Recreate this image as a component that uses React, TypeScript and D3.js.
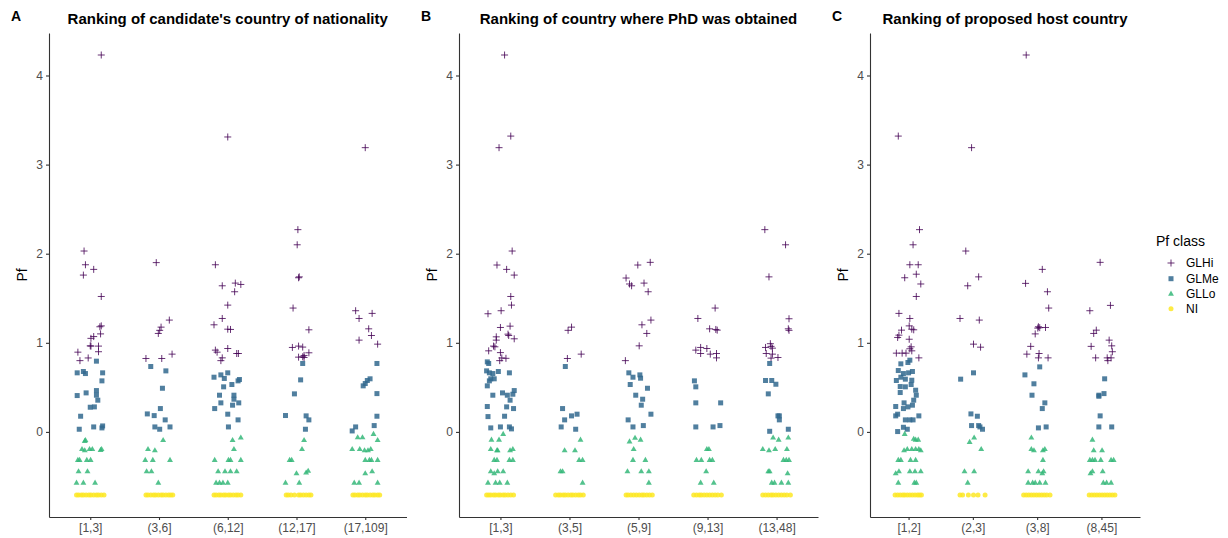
import React, { useEffect, useRef } from "react";
import * as d3 from "d3";

// category labels (binned rankings)
const nationalityCats = ["[1,3]", "(3,6]", "(6,12]", "(12,17]", "(17,109]"];
const phdCats = ["[1,3]", "(3,5]", "(5,9]", "(9,13]", "(13,48]"];
const hostCats = ["[1,2]", "(2,3]", "(3,8]", "(8,45]"];
const pfTicks = [0, 1, 2, 3, 4];
const NI_PF = -0.708;

// points as [category index, horizontal jitter (in category steps), Pf]
const nationalityHi = [
  [0, 0.16, 4.23], [0, -0.09, 2.03], [0, -0.07, 1.876], [0, -0.1, 1.76], [0, 0.05, 1.824], [0, 0.16, 1.52],
  [0, 0.14, 1.18], [0, 0.16, 1.19], [0, 0.15, 1.1], [0, 0.05, 1.07], [0, 0.01, 1.05], [0, 0, 0.966],
  [0, 0.01, 0.963], [0, 0.12, 0.963], [0, 0.12, 0.9], [0, -0.18, 0.895], [0, -0.15, 0.8], [0, -0.03, 0.83],
  [1, -0.04, 1.9], [1, 0.15, 1.255], [1, 0.03, 1.176], [1, 0.01, 1.14], [1, -0.01, 1.105], [1, -0.19, 0.824],
  [1, 0.04, 0.824], [1, 0.19, 0.873],
  [2, 0, 3.31], [2, -0.18, 1.876], [2, -0.08, 1.64], [2, 0.11, 1.67], [2, 0.19, 1.655], [2, 0.1, 1.573],
  [2, 0, 1.423], [2, -0.08, 1.273], [2, -0.2, 1.202], [2, 0, 1.153], [2, 0.04, 1.15], [2, 0, 0.936],
  [2, -0.18, 0.918], [2, -0.155, 0.895], [2, -0.08, 0.831], [2, -0.1, 0.8], [2, 0.13, 0.88], [2, 0.155, 0.88],
  [3, 0.02, 2.27], [3, 0.01, 2.1], [3, 0.03, 1.73], [3, 0.04, 1.74], [3, -0.05, 1.39], [3, 0.18, 1.146],
  [3, -0.06, 0.948], [3, 0.03, 0.963], [3, 0.09, 0.952], [3, 0.03, 0.839], [3, 0.11, 0.858], [3, 0.11, 0.835],
  [3, 0.18, 0.888], [3, 0.09, 0.843],
  [4, 0, 3.19], [4, -0.14, 1.36], [4, -0.09, 1.273], [4, 0.1, 1.33], [4, 0.05, 1.157], [4, 0.09, 1.082],
  [4, -0.09, 1.03], [4, 0.18, 0.985],
];
const nationalityMe = [
  [0, -0.19, 0.663], [0, -0.1, 0.678], [0, -0.07, 0.655], [0, 0.09, 0.794], [0, 0.18, 0.663], [0, 0.17, 0.573],
  [0, -0.19, 0.408], [0, -0.06, 0.438], [0, 0.09, 0.464], [0, 0.09, 0.412], [0, 0.11, 0.356], [0, 0, 0.277],
  [0, 0.06, 0.281], [0, -0.14, 0.176], [0, -0.16, 0.03], [0, 0.05, 0.056], [0, 0.17, 0.045], [0, 0.18, 0.067],
  [1, -0.12, 0.734], [1, 0.1, 0.685], [1, 0.05, 0.49], [1, 0.02, 0.262], [1, -0.17, 0.202], [1, -0.07, 0.183],
  [1, 0.09, 0.135], [1, -0.06, 0.056], [1, 0.01, 0.03], [1, 0.16, 0.056],
  [2, -0.2, 0.614], [2, -0.1, 0.64], [2, -0.05, 0.6], [2, 0, 0.663], [2, -0.06, 0.506], [2, 0.06, 0.532],
  [2, 0.15, 0.573], [2, 0.17, 0.588], [2, -0.12, 0.412], [2, 0.09, 0.412], [2, 0.09, 0.367], [2, -0.1, 0.326],
  [2, 0.07, 0.3], [2, 0.16, 0.326], [2, -0.19, 0.262], [2, 0, 0.199], [2, 0.15, 0.135], [2, 0.01, 0.056],
  [3, 0.09, 0.768], [3, 0.06, 0.584], [3, -0.03, 0.427], [3, -0.16, 0.184], [3, 0.14, 0.18], [3, 0.18, 0.135],
  [3, 0.13, 0.03],
  [4, 0.17, 0.768], [4, 0.07, 0.596], [4, 0.03, 0.577], [4, 0, 0.543], [4, -0.03, 0.517], [4, 0.17, 0.43],
  [4, 0.17, 0.176], [4, 0.13, 0.071], [4, -0.14, 0.056], [4, -0.19, 0.011],
];
const nationalityLo = [
  [0, -0.07, -0.094], [0, -0.08, -0.105], [0, -0.12, -0.195], [0, -0.08, -0.21], [0, -0.01, -0.195],
  [0, 0.03, -0.195], [0, 0.15, -0.205], [0, 0.165, -0.195], [0, -0.18, -0.318], [0, -0.155, -0.318],
  [0, -0.05, -0.318], [0, 0.005, -0.318], [0, -0.17, -0.446], [0, -0.04, -0.446], [0, -0.2, -0.573],
  [0, -0.1, -0.573], [0, 0.07, -0.573],
  [1, 0.06, -0.094], [1, -0.16, -0.195], [1, -0.06, -0.21], [1, -0.2, -0.318], [1, -0.09, -0.318],
  [1, 0.16, -0.318], [1, -0.18, -0.446], [1, -0.11, -0.446], [1, -0.01, -0.573],
  [2, 0.07, -0.094], [2, 0.19, -0.067], [2, 0.09, -0.195], [2, -0.19, -0.318], [2, 0.01, -0.318],
  [2, 0.04, -0.318], [2, 0.19, -0.318], [2, -0.14, -0.446], [2, -0.04, -0.446], [2, 0.04, -0.446],
  [2, 0.13, -0.446], [2, -0.17, -0.573], [2, -0.12, -0.573], [2, -0.07, -0.573], [2, 0, -0.573],
  [3, 0.11, -0.094], [3, 0.08, -0.195], [3, -0.1, -0.318], [3, -0.07, -0.318], [3, 0, -0.468],
  [3, 0.14, -0.46], [3, 0.17, -0.44], [3, -0.16, -0.573], [3, 0.04, -0.573],
  [4, -0.11, -0.064], [4, -0.04, -0.064], [4, 0.12, -0.026], [4, 0.18, -0.094], [4, -0.19, -0.195],
  [4, -0.08, -0.195], [4, -0.01, -0.21], [4, 0.04, -0.21], [4, 0.08, -0.195], [4, 0, -0.318],
  [4, 0.06, -0.318], [4, 0.09, -0.318], [4, 0.18, -0.318], [4, 0, -0.468], [4, 0.1, -0.446],
  [4, -0.16, -0.573], [4, -0.09, -0.573], [4, 0.18, -0.573],
];
const nationalityNI = [
  [0, -0.2], [0, -0.17], [0, -0.13], [0, -0.1], [0, -0.06], [0, -0.02], [0, 0.01], [0, 0.05], [0, 0.09], [0, 0.12], [0, 0.16], [0, 0.2],
  [1, -0.19], [1, -0.16], [1, -0.12], [1, -0.08], [1, -0.05], [1, -0.01], [1, 0.03], [1, 0.06], [1, 0.1], [1, 0.14], [1, 0.17], [1, 0.2],
  [2, -0.2], [2, -0.17], [2, -0.13], [2, -0.1], [2, -0.06], [2, -0.03], [2, 0.01], [2, 0.04], [2, 0.08], [2, 0.12], [2, 0.15], [2, 0.19],
  [3, -0.15], [3, -0.12], [3, -0.08], [3, -0.03], [3, 0.03], [3, 0.06], [3, 0.1], [3, 0.14], [3, 0.18], [3, 0.21],
  [4, -0.18], [4, -0.15], [4, -0.11], [4, -0.08], [4, -0.04], [4, 0], [4, 0.03], [4, 0.07], [4, 0.11], [4, 0.14], [4, 0.18], [4, 0.21],
];

const phdHi = [
  [0, 0.06, 4.23], [0, 0.15, 3.32], [0, -0.02, 3.19], [0, 0.17, 2.03], [0, -0.05, 1.873], [0, 0.09, 1.824],
  [0, 0.2, 1.76], [0, 0.15, 1.52], [0, 0.16, 1.423], [0, -0.18, 1.326], [0, 0.01, 1.36], [0, 0, 1.172],
  [0, 0.14, 1.187], [0, 0.11, 1.097], [0, 0.12, 1.082], [0, -0.06, 1.067], [0, -0.06, 1.03], [0, 0.2, 1.045],
  [0, -0.1, 0.963], [0, -0.08, 0.955], [0, -0.17, 0.91], [0, 0, 0.89], [0, -0.01, 0.8], [0, 0.02, 0.83],
  [0, 0.08, 0.826],
  [1, 0.03, 1.176], [1, -0.02, 1.14], [1, -0.03, 0.824], [1, 0.17, 0.873],
  [2, -0.18, 1.727], [2, -0.13, 1.66], [2, -0.1, 1.64], [2, -0.01, 1.873], [2, 0.17, 1.903], [2, 0.08, 1.67],
  [2, 0.14, 1.573], [2, 0.18, 1.255], [2, 0.05, 1.202], [2, 0.12, 1.105], [2, 0.01, 0.966], [2, -0.19, 0.8],
  [3, 0.11, 1.39], [3, -0.14, 1.273], [3, 0.03, 1.157], [3, 0.12, 1.15], [3, 0.14, 1.142], [3, -0.17, 0.918],
  [3, -0.1, 0.948], [3, -0.01, 0.936], [3, -0.1, 0.88], [3, 0.04, 0.873], [3, 0.13, 0.88], [3, 0.13, 0.831],
  [4, -0.17, 2.27], [4, 0.13, 2.1], [4, -0.11, 1.74], [4, 0.18, 1.27], [4, 0.17, 1.157], [4, 0.18, 1.14],
  [4, -0.09, 0.99], [4, -0.16, 0.948], [4, -0.08, 0.96], [4, -0.06, 0.94], [4, -0.15, 0.88], [4, -0.06, 0.873],
  [4, -0.08, 0.828], [4, 0.02, 0.835],
];
const phdMe = [
  [0, -0.19, 0.786], [0, -0.17, 0.768], [0, -0.2, 0.685], [0, -0.16, 0.663], [0, -0.11, 0.655], [0, -0.03, 0.678],
  [0, 0.13, 0.663], [0, -0.19, 0.517], [0, -0.16, 0.573], [0, -0.14, 0.596], [0, -0.09, 0.596], [0, -0.11, 0.412],
  [0, 0.03, 0.438], [0, 0.1, 0.412], [0, 0.14, 0.356], [0, 0.18, 0.423], [0, 0.2, 0.464], [0, -0.19, 0.285],
  [0, 0.09, 0.281], [0, 0.19, 0.262], [0, -0.18, 0.172], [0, 0.06, 0.176], [0, -0.14, 0.045], [0, 0, 0.056],
  [0, 0.13, 0.056], [0, 0.16, 0.034],
  [1, -0.06, 0.734], [1, -0.1, 0.262], [1, 0.03, 0.18], [1, 0.11, 0.199], [1, -0.07, 0.135], [1, -0.12, 0.056],
  [1, 0.09, 0.03],
  [2, -0.14, 0.663], [2, -0.12, 0.532], [2, -0.08, 0.614], [2, 0.02, 0.64], [2, 0.03, 0.603], [2, 0.13, 0.49],
  [2, -0.04, 0.412], [2, 0.06, 0.367], [2, 0.04, 0.3], [2, 0.18, 0.199], [2, -0.15, 0.135], [2, -0.08, 0.056],
  [2, 0.07, 0.071],
  [3, -0.19, 0.573], [3, -0.17, 0.506], [3, -0.17, 0.326], [3, 0.19, 0.326], [3, -0.17, 0.056], [3, 0.08, 0.056],
  [3, 0.18, 0.071],
  [4, -0.1, 0.768], [4, -0.16, 0.577], [4, -0.07, 0.577], [4, -0.01, 0.535], [4, -0.12, 0.427], [4, 0.02, 0.18],
  [4, 0.04, 0.18], [4, 0.04, 0.135], [4, -0.1, 0.007], [4, 0.17, 0.03],
];
const phdLo = [
  [0, 0.04, -0.026], [0, -0.13, -0.09], [0, -0.02, -0.09], [0, -0.14, -0.195], [0, -0.05, -0.21],
  [0, -0.04, -0.21], [0, 0.14, -0.21], [0, 0.18, -0.195], [0, -0.09, -0.318], [0, -0.05, -0.318],
  [0, 0.13, -0.318], [0, 0.18, -0.318], [0, -0.14, -0.446], [0, -0.09, -0.468], [0, -0.04, -0.446],
  [0, 0.04, -0.446], [0, -0.18, -0.573], [0, -0.07, -0.573], [0, -0.01, -0.573], [0, 0.1, -0.573],
  [1, 0.16, -0.09], [1, -0.07, -0.21], [1, 0.08, -0.21], [1, 0.14, -0.318], [1, 0.19, -0.318],
  [1, -0.13, -0.446], [1, -0.1, -0.446], [1, 0.19, -0.573],
  [2, -0.13, -0.11], [2, -0.05, -0.07], [2, 0.03, -0.09], [2, -0.07, -0.195], [2, -0.08, -0.318],
  [2, 0.1, -0.318], [2, -0.16, -0.446], [2, 0.04, -0.446], [2, 0.15, -0.446], [2, 0.15, -0.573],
  [3, -0.01, -0.195], [3, 0.02, -0.195], [3, -0.16, -0.318], [3, -0.09, -0.318], [3, 0.03, -0.318],
  [3, 0.07, -0.318], [3, -0.02, -0.446], [3, -0.1, -0.573], [3, 0.09, -0.573],
  [4, -0.05, -0.067], [4, 0.03, -0.09], [4, 0.17, -0.067], [4, -0.2, -0.195], [4, -0.11, -0.21],
  [4, -0.02, -0.195], [4, 0.15, -0.195], [4, 0.1, -0.318], [4, 0.14, -0.318], [4, 0.18, -0.318],
  [4, -0.12, -0.446], [4, -0.1, -0.446], [4, 0.16, -0.468], [4, -0.07, -0.573], [4, -0.03, -0.573],
  [4, 0.07, -0.573], [4, 0.17, -0.573],
];
const phdNI = [
  [0, -0.2], [0, -0.17], [0, -0.14], [0, -0.1], [0, -0.07], [0, -0.03], [0, 0], [0, 0.04], [0, 0.07], [0, 0.11], [0, 0.15], [0, 0.19],
  [1, -0.2], [1, -0.16], [1, -0.13], [1, -0.09], [1, -0.06], [1, -0.02], [1, 0.02], [1, 0.05], [1, 0.09], [1, 0.13], [1, 0.16], [1, 0.2],
  [2, -0.18], [2, -0.15], [2, -0.11], [2, -0.07], [2, -0.03], [2, 0.01], [2, 0.05], [2, 0.08], [2, 0.12], [2, 0.16], [2, 0.2],
  [3, -0.2], [3, -0.16], [3, -0.12], [3, -0.09], [3, -0.05], [3, -0.01], [3, 0.03], [3, 0.07], [3, 0.11], [3, 0.15], [3, 0.2],
  [4, -0.2], [4, -0.16], [4, -0.12], [4, -0.08], [4, -0.05], [4, -0.01], [4, 0.03], [4, 0.07], [4, 0.11], [4, 0.15], [4, 0.2],
];

const hostHi = [
  [0, -0.16, 3.32], [0, 0.17, 2.27], [0, 0.07, 2.1], [0, 0.02, 1.876], [0, 0.15, 1.876], [0, -0.06, 1.73],
  [0, 0.12, 1.77], [0, 0.19, 1.66], [0, 0.12, 1.52], [0, -0.15, 1.33], [0, 0.02, 1.273], [0, 0.01, 1.19],
  [0, 0.05, 1.153], [0, 0.08, 1.146], [0, -0.11, 1.142], [0, -0.15, 1.086], [0, -0.17, 1.06], [0, 0.01, 1.04],
  [0, 0.04, 0.955], [0, 0.02, 0.933], [0, 0.05, 0.91], [0, -0.19, 0.884], [0, -0.1, 0.884], [0, -0.04, 0.884],
  [0, 0.16, 0.831],
  [1, -0.02, 3.19], [1, -0.11, 2.03], [1, -0.08, 1.64], [1, 0.09, 1.74], [1, -0.2, 1.273], [1, 0.1, 1.255],
  [1, 0.01, 0.985], [1, 0.12, 0.951],
  [2, -0.17, 4.23], [2, 0.08, 1.824], [2, -0.18, 1.667], [2, 0.16, 1.573], [2, 0.18, 1.39], [2, 0.02, 1.18],
  [2, 0.04, 1.17], [2, 0.01, 1.165], [2, 0.13, 1.172], [2, -0.03, 1.1], [2, -0.1, 0.96], [2, -0.16, 0.873],
  [2, 0.03, 0.88], [2, 0.02, 0.831], [2, 0.17, 0.831],
  [3, -0.02, 1.903], [3, 0.14, 1.42], [3, -0.18, 1.36], [3, -0.08, 1.142], [3, -0.12, 1.105], [3, 0.12, 1.03],
  [3, 0.16, 0.966], [3, -0.16, 0.96], [3, 0.17, 0.9], [3, -0.09, 0.831], [3, 0.09, 0.831], [3, 0.15, 0.831],
  [3, 0.1, 0.8],
];
const hostMe = [
  [0, -0.12, 0.764], [0, -0.01, 0.779], [0, 0.02, 0.805], [0, -0.16, 0.689], [0, -0.08, 0.655], [0, 0, 0.663],
  [0, 0.06, 0.678], [0, -0.19, 0.577], [0, -0.12, 0.614], [0, -0.05, 0.592], [0, 0.05, 0.58], [0, 0.04, 0.532],
  [0, -0.13, 0.509], [0, -0.05, 0.506], [0, -0.13, 0.442], [0, 0.11, 0.468], [0, 0.12, 0.412], [0, -0.07, 0.326],
  [0, 0.08, 0.356], [0, 0.06, 0.3], [0, -0.2, 0.285], [0, -0.08, 0.262], [0, -0.01, 0.281], [0, -0.2, 0.18],
  [0, -0.17, 0.199], [0, 0.16, 0.18], [0, -0.05, 0.135], [0, 0.02, 0.135], [0, 0.07, 0.135], [0, -0.08, 0.052],
  [0, -0.02, 0.03], [0, -0.17, 0.004],
  [1, -0.19, 0.592], [1, 0.01, 0.663], [1, -0.03, 0.202], [1, -0.02, 0.071], [1, 0.07, 0.176], [1, 0.09, 0.071],
  [1, 0.11, 0.056], [1, 0.15, 0.03],
  [2, -0.19, 0.64], [2, 0.04, 0.73], [2, -0.05, 0.54], [2, -0.08, 0.412], [2, 0.12, 0.326], [2, 0.08, 0.262],
  [2, 0.02, 0.045], [2, 0.14, 0.056],
  [3, 0.05, 0.596], [3, -0.04, 0.412], [3, -0.04, 0.4], [3, 0.04, 0.43], [3, -0.02, 0.18], [3, -0.04, 0.056],
  [3, 0.16, 0.056],
];
const hostLo = [
  [0, -0.06, -0.026], [0, 0.08, -0.08], [0, 0.11, -0.09], [0, 0.15, -0.09], [0, -0.07, -0.21], [0, -0.02, -0.195],
  [0, 0.05, -0.195], [0, 0.11, -0.195], [0, 0.16, -0.195], [0, 0.19, -0.21], [0, -0.16, -0.318], [0, -0.12, -0.318],
  [0, 0.03, -0.318], [0, 0.11, -0.318], [0, -0.2, -0.468], [0, -0.15, -0.446], [0, 0.02, -0.446], [0, 0.1, -0.446],
  [0, 0.19, -0.446], [0, -0.16, -0.573], [0, 0.09, -0.573], [0, 0.12, -0.573],
  [1, 0.02, -0.067], [1, -0.05, -0.116], [1, 0.13, -0.195], [1, -0.13, -0.446], [1, 0.02, -0.446], [1, -0.08, -0.573],
  [2, -0.09, -0.067], [2, -0.09, -0.195], [2, -0.05, -0.21], [2, 0.09, -0.21], [2, 0.12, -0.195], [2, 0.09, -0.318],
  [2, -0.14, -0.446], [2, 0.02, -0.446], [2, 0.08, -0.468], [2, 0.1, -0.446], [2, -0.14, -0.573], [2, -0.07, -0.573],
  [2, -0.03, -0.573], [2, 0.04, -0.573], [2, 0.13, -0.573],
  [3, -0.14, -0.09], [3, -0.12, -0.21], [3, 0.01, -0.21], [3, -0.18, -0.318], [3, -0.14, -0.318], [3, -0.1, -0.318],
  [3, -0.01, -0.318], [3, 0.15, -0.318], [3, 0.19, -0.318], [3, -0.17, -0.468], [3, -0.14, -0.446], [3, 0.02, -0.446],
  [3, 0.03, -0.573], [3, 0.08, -0.573], [3, 0.15, -0.573],
];
const hostNI = [
  [0, -0.21], [0, -0.17], [0, -0.13], [0, -0.09], [0, -0.06], [0, -0.02], [0, 0.02], [0, 0.06], [0, 0.1], [0, 0.14], [0, 0.17], [0, 0.2],
  [1, -0.2], [1, -0.16], [1, -0.07], [1, 0.01], [1, 0.08], [1, 0.19],
  [2, -0.21], [2, -0.17], [2, -0.13], [2, -0.09], [2, -0.05], [2, -0.01], [2, 0.03], [2, 0.07], [2, 0.11], [2, 0.15], [2, 0.2],
  [3, -0.19], [3, -0.15], [3, -0.11], [3, -0.07], [3, -0.03], [3, 0.01], [3, 0.05], [3, 0.09], [3, 0.13], [3, 0.17], [3, 0.21],
];

const classNames = ["GLHi", "GLMe", "GLLo", "NI"];
const classColors = ["#440154", "#31688E", "#35B779", "#FDE725"];

const FONT = "'Liberation Sans', Arial, Helvetica, sans-serif";
const TOP = 33;
const BOTTOM = 517;

const allPf = [nationalityHi, phdHi, hostHi, nationalityMe, phdMe, hostMe, nationalityLo, phdLo, hostLo]
  .flatMap((arr) => arr.map((d) => d[2]))
  .concat([NI_PF]);
const [pfMin, pfMax] = d3.extent(allPf) as [number, number];
const pfPad = (pfMax - pfMin) * 0.05;
const pfDomain = [pfMin - pfPad, pfMax + pfPad];

const panels = [
  { letter: "A", title: "Ranking of candidate's country of nationality", left: 49, right: 406.5, cats: nationalityCats, hi: nationalityHi, me: nationalityMe, lo: nationalityLo, ni: nationalityNI },
  { letter: "B", title: "Ranking of country where PhD was obtained", left: 459, right: 818, cats: phdCats, hi: phdHi, me: phdMe, lo: phdLo, ni: phdNI },
  { letter: "C", title: "Ranking of proposed host country", left: 870, right: 1140, cats: hostCats, hi: hostHi, me: hostMe, lo: hostLo, ni: hostNI },
];

const triPath = d3.symbol(d3.symbolTriangle, 15)() as string;

const Marker = ({ k, x, y }: { k: number; x: number; y: number }) => {
  const c = classColors[k];
  const t = `translate(${x},${y})`;
  if (k === 0) return <path d="M-3.5,0H3.5M0,-3.5V3.5" transform={t} stroke={c} strokeWidth={1} strokeOpacity={0.8} fill="none" />;
  if (k === 1) return <rect x={x - 2.5} y={y - 2.5} width={5} height={5} fill={c} fillOpacity={0.85} />;
  if (k === 2) return <path d={triPath} transform={t} fill={c} fillOpacity={0.85} />;
  return <circle cx={x} cy={y} r={2.5} fill={c} fillOpacity={0.85} />;
};

const Panel = ({ p }: { p: any }) => {
  const xRef = useRef<SVGGElement>(null);
  const yRef = useRef<SVGGElement>(null);
  const x = d3.scalePoint<string>().domain(p.cats).range([p.left, p.right]).padding(0.6);
  const step = x.step();
  const y = d3.scaleLinear().domain(pfDomain).range([BOTTOM, TOP]);
  const px = (c: number, dx: number) => (x(p.cats[c]) as number) + dx * step;

  useEffect(() => {
    const styleAxis = (g: any) => {
      g.select(".domain").attr("stroke", "#333").attr("stroke-width", 1.1);
      g.selectAll(".tick line").attr("stroke", "#333").attr("stroke-width", 1.1);
      g.selectAll(".tick text").attr("fill", "#4D4D4D").style("font-size", "12px").style("font-family", FONT);
    };
    const gx = d3.select(xRef.current);
    gx.selectAll("*").remove();
    gx.call(d3.axisBottom(x).tickSize(3).tickSizeOuter(0).tickPadding(3) as any).call(styleAxis);
    const gy = d3.select(yRef.current);
    gy.selectAll("*").remove();
    gy.call(d3.axisLeft(y).tickValues(pfTicks).tickFormat(d3.format("d")).tickSize(3).tickSizeOuter(0).tickPadding(3) as any).call(styleAxis);
  }, []);

  return (
    <g>
      <text x={p.left - 38} y={21} fontFamily={FONT} fontSize={14} fontWeight="bold">{p.letter}</text>
      <text x={(p.left + p.right) / 2} y={24} fontFamily={FONT} fontSize={15} fontWeight="bold" textAnchor="middle">{p.title}</text>
      <text transform={`translate(${p.left - 27},${(TOP + BOTTOM) / 2}) rotate(-90)`} dy="0.35em" textAnchor="middle" fontFamily={FONT} fontSize={14}>Pf</text>
      {p.hi.map((d: number[], i: number) => <Marker key={"h" + i} k={0} x={px(d[0], d[1])} y={y(d[2])} />)}
      {p.me.map((d: number[], i: number) => <Marker key={"m" + i} k={1} x={px(d[0], d[1])} y={y(d[2])} />)}
      {p.lo.map((d: number[], i: number) => <Marker key={"l" + i} k={2} x={px(d[0], d[1])} y={y(d[2])} />)}
      {p.ni.map((d: number[], i: number) => <Marker key={"n" + i} k={3} x={px(d[0], d[1])} y={y(NI_PF)} />)}
      <g ref={xRef} transform={`translate(0,${BOTTOM})`} />
      <g ref={yRef} transform={`translate(${p.left},0)`} />
    </g>
  );
};

export default function App() {
  const legendY = [263, 278.7, 294, 308.7];
  return (
    <svg width={1228} height={538} style={{ position: "absolute", left: 0, top: 0, background: "#fff" }}>
      <rect width={1228} height={538} fill="#fff" />
      {panels.map((p) => <Panel key={p.letter} p={p} />)}
      <g>
        <text x={1156} y={246} fontFamily={FONT} fontSize={14}>Pf class</text>
        {classNames.map((n, i) => (
          <g key={n}>
            <Marker k={i} x={1171} y={legendY[i]} />
            <text x={1186} y={legendY[i]} dy="0.35em" fontFamily={FONT} fontSize={12}>{n}</text>
          </g>
        ))}
      </g>
    </svg>
  );
}
